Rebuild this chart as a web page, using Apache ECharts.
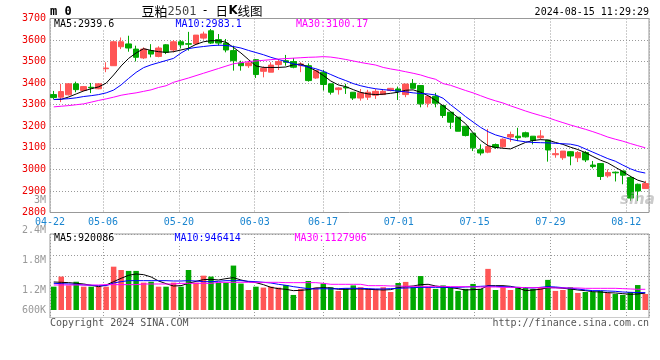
<!DOCTYPE html>
<html><head><meta charset="utf-8">
<script src="https://cdn.jsdelivr.net/npm/echarts@6/dist/echarts.min.js"></script>
<style>html,body{margin:0;padding:0;background:#fff}#c{width:660px;height:360px}</style>
</head><body><div id="c"></div>
<script>
const dates = ['04-22','04-23','04-24','04-25','04-26','04-29','04-30',
'05-06','05-07','05-08','05-09','05-10','05-13','05-14','05-15','05-16','05-17',
'05-20','05-21','05-22','05-23','05-24','05-27','05-28','05-29','05-30','05-31',
'06-03','06-04','06-05','06-06','06-07','06-11','06-12','06-13','06-14',
'06-17','06-18','06-19','06-20','06-21','06-24','06-25','06-26','06-27','06-28',
'07-01','07-02','07-03','07-04','07-05','07-08','07-09','07-10','07-11','07-12',
'07-15','07-16','07-17','07-18','07-19','07-22','07-23','07-24','07-25','07-26',
'07-29','07-30','07-31','08-01','08-02','08-05','08-06','08-07','08-08','08-09',
'08-12','08-13','08-14','08-15'];
const opens = [3347,3335,3346,3397,3366,3381,3374,3467,3481,3569,3582,3558,3517,3551,3524,3578,3554,3592,3583,3582,
3609,3643,3602,3586,3551,3494,3481,3509,3455,3451,3486,3504,3500,3481,3481,3424,3451,3397,3370,3381,
3358,3331,3335,3344,3347,3366,3373,3347,3399,3389,3307,3339,3296,3265,3242,3200,3168,3091,3080,3115,
3105,3150,3154,3170,3154,3147,3136,3068,3054,3082,3054,3078,3020,3027,2970,2987,2993,2962,2931,2911];
const closes = [3333,3361,3397,3370,3384,3378,3397,3470,3592,3592,3563,3520,3558,3535,3563,3543,3592,3578,3581,3623,
3628,3586,3586,3554,3504,3481,3494,3440,3469,3484,3500,3497,3474,3489,3412,3458,3394,3358,3378,3378,
3331,3355,3358,3362,3362,3376,3362,3396,3376,3304,3339,3307,3250,3219,3177,3157,3100,3076,3106,3102,
3140,3162,3147,3151,3134,3155,3090,3073,3085,3062,3078,3044,3013,2967,2985,2984,2973,2867,2900,2934];
const lows = [3326,3312,3343,3358,3362,3354,3372,3451,3481,3558,3546,3501,3512,3520,3520,3535,3543,3561,3551,3580,
3602,3582,3574,3543,3458,3458,3471,3424,3427,3451,3461,3481,3469,3451,3407,3420,3366,3347,3347,3350,
3322,3319,3322,3327,3347,3362,3322,3335,3376,3288,3288,3288,3239,3188,3177,3153,3085,3065,3075,3095,
3100,3128,3131,3148,3116,3139,3036,3054,3044,3019,3034,3034,3005,2951,2962,2944,2931,2854,2854,2911];
const highs = [3364,3397,3400,3407,3387,3401,3400,3497,3595,3612,3620,3574,3566,3581,3571,3581,3600,3600,3638,3623,
3639,3659,3628,3605,3574,3504,3504,3512,3478,3497,3512,3531,3517,3497,3492,3458,3461,3397,3381,3397,
3358,3373,3369,3373,3369,3378,3384,3396,3419,3389,3339,3355,3296,3265,3242,3200,3168,3116,3188,3120,
3144,3175,3193,3175,3154,3182,3136,3098,3085,3085,3085,3085,3039,3027,3000,2990,2993,2970,2934,2947];
const ma5 = [3324,3325,3336,3350,3364,3374,3383,3400,3438,3480,3515,3540,3560,3552,3546,3543,3546,3554,3562,3580,
3592,3597,3597,3590,3566,3540,3510,3480,3473,3473,3473,3475,3485,3489,3475,3458,3436,3410,3392,3384,
3370,3357,3350,3347,3349,3353,3358,3367,3369,3358,3342,3320,3295,3268,3240,3212,3170,3135,3110,3102,
3098,3095,3110,3125,3134,3138,3136,3125,3116,3103,3092,3078,3060,3043,3030,3010,2990,2968,2950,2939.6];
const ma10 = [3324,3326,3328,3332,3338,3342,3347,3355,3368,3392,3422,3450,3472,3485,3495,3505,3515,3540,3560,3566,
3570,3574,3576,3575,3570,3563,3552,3542,3532,3520,3510,3500,3490,3483,3475,3467,3455,3440,3425,3412,
3398,3388,3380,3374,3370,3367,3363,3360,3355,3352,3350,3345,3330,3300,3273,3245,3220,3195,3175,3160,
3150,3140,3133,3128,3125,3124,3123,3121,3119,3117,3110,3095,3080,3065,3050,3038,3020,3003,2990,2983.1];
const ma30 = [3290,3293,3296,3300,3304,3312,3320,3327,3335,3344,3350,3355,3362,3369,3380,3388,3404,3414,3424,3435,
3446,3457,3468,3479,3490,3495,3500,3503,3506,3509,3512,3514,3516,3518,3520,3521,3523,3521,3516,3510,
3503,3496,3490,3484,3473,3466,3460,3453,3446,3438,3427,3418,3398,3390,3378,3366,3355,3342,3329,3318,
3308,3295,3283,3271,3260,3250,3240,3228,3217,3206,3196,3186,3175,3163,3150,3140,3131,3120,3110,3100.17];
const volumes = [1270000,1820000,1340000,1540000,1270000,1270000,1270000,1270000,2360000,2180000,
2130000,2130000,1490000,1540000,1270000,1270000,1490000,1270000,2180000,1490000,
1870000,1820000,1490000,1490000,2420000,1440000,1090000,1270000,1220000,1270000,
1220000,1360000,820000,1150000,1580000,1220000,1440000,1240000,1040000,1180000,
1340000,1240000,1150000,1150000,1240000,980000,1470000,1530000,1240000,1850000,
1240000,1150000,1340000,1240000,1040000,1150000,1420000,1150000,2240000,1090000,
1240000,1090000,1240000,1240000,1150000,1240000,1640000,1040000,1090000,1240000,
930000,980000,980000,1040000,930000,870000,820000,980000,1360000,870000];
const volMa5 = [1526000,1508000,1490000,1453000,1417000,1345000,1272000,1363000,1544000,1726000,
1890000,1962000,1926000,1800000,1580000,1435000,1308000,1326000,1453000,1562000,
1654000,1672000,1635000,1708000,1762000,1635000,1544000,1490000,1381000,1235000,
1163000,1127000,1054000,1072000,1109000,1200000,1217000,1200000,1127000,1127000,
1145000,1145000,1127000,1109000,1090000,1109000,1217000,1272000,1308000,1381000,
1400000,1308000,1254000,1217000,1163000,1090000,1109000,1127000,1326000,1326000,
1326000,1290000,1200000,1054000,1090000,1127000,1217000,1217000,1181000,1145000,
1090000,1054000,1000000,981000,945000,927000,890000,854000,872000,920086];
const volMa10 = [1453000,1435000,1417000,1400000,1363000,1345000,1326000,1326000,1472000,1544000,
1599000,1599000,1599000,1599000,1599000,1599000,1580000,1580000,1599000,1580000,
1544000,1544000,1562000,1599000,1599000,1599000,1562000,1544000,1508000,1472000,
1400000,1345000,1272000,1217000,1163000,1145000,1163000,1145000,1163000,1181000,
1181000,1181000,1163000,1145000,1145000,1163000,1181000,1200000,1217000,1235000,
1235000,1235000,1235000,1235000,1235000,1254000,1272000,1290000,1308000,1290000,
1272000,1254000,1235000,1217000,1200000,1235000,1272000,1254000,1217000,1181000,
1145000,1090000,1054000,1054000,1036000,1018000,981000,963000,950000,946414];
const volMa30 = [1363000,1363000,1363000,1363000,1363000,1363000,1363000,1381000,1381000,1381000,
1381000,1381000,1417000,1417000,1417000,1417000,1417000,1453000,1453000,1453000,
1453000,1453000,1508000,1508000,1508000,1508000,1508000,1508000,1508000,1508000,
1508000,1490000,1490000,1490000,1490000,1490000,1453000,1400000,1400000,1400000,
1400000,1400000,1326000,1326000,1326000,1308000,1308000,1290000,1290000,1290000,
1290000,1290000,1290000,1272000,1272000,1272000,1254000,1254000,1254000,1254000,
1235000,1235000,1235000,1217000,1217000,1217000,1217000,1200000,1200000,1200000,
1200000,1181000,1181000,1181000,1181000,1181000,1163000,1145000,1127906,1127906];
const xTickLabels = ['04-22','05-06','05-20','06-03','06-17','07-01','07-15','07-29','08-12'];
const volTickLabels = ['2.4M','1.8M','1.2M','600K'];
const legendPrice = ['MA5:2939.6','MA10:2983.1','MA30:3100.17'];
const legendVol = ['MA5:920086','MA10:946414','MA30:1127906'];

const RED = '#ff5555', GREEN = '#00a800';
const MONO = 'DejaVu Sans Mono';
const gridDates = dates.slice(0, dates.length - 1);
const isTick = (i, v) => xTickLabels.indexOf(v) >= 0;
const dotted = {color: '#999', type: [1, 2], width: 1};

const candleData = dates.map((d, i) => [opens[i], closes[i], lows[i], highs[i]]);
const volData = volumes.map((v, i) => ({value: v, itemStyle: {color: closes[i] >= opens[i] ? RED : GREEN}}));

const chart = echarts.init(document.getElementById('c'), null, {renderer: 'canvas'});
const txt = (text, x, y, fill, font, align) => ({type: 'text', x: x, y: y, z: 100,
  style: {text: text, fill: fill, font: font, textAlign: align || 'left', textVerticalAlign: 'middle', backgroundColor: '#fff'}});

chart.setOption({
  animation: false,
  backgroundColor: '#fff',
  grid: [
    {left: 50, right: 11, top: 18.5, height: 194, show: true, borderColor: '#999', borderWidth: 1},
    {left: 50, right: 11, top: 234, height: 76},
    {left: 50, right: 11, top: 234, height: 84, show: true, borderColor: '#999', borderWidth: 1}
  ],
  xAxis: [
    {type: 'category', data: dates, gridIndex: 0, show: false, position: 'top'},
    {type: 'category', data: gridDates, gridIndex: 0, boundaryGap: true, position: 'bottom',
      axisLine: {show: false}, axisTick: {show: false},
      axisLabel: {interval: isTick, color: '#1a85d0', fontFamily: MONO, fontSize: 10, margin: 5, padding: [0, 7.6, 0, 0]},
      splitLine: {show: true, interval: isTick, lineStyle: dotted}},
    {type: 'category', data: dates, gridIndex: 1, show: false},
    {type: 'category', data: gridDates, gridIndex: 2, boundaryGap: true,
      axisLine: {show: false}, axisTick: {show: false}, axisLabel: {show: false},
      splitLine: {show: true, interval: isTick, lineStyle: dotted}}
  ],
  yAxis: [
    {type: 'value', gridIndex: 0, min: 2800, max: 3700, interval: 100,
      axisLine: {show: false}, axisTick: {show: false},
      axisLabel: {color: '#ee0000', fontFamily: MONO, fontSize: 10, margin: 4, padding: [0, 0, 3, 0], formatter: v => String(v)},
      splitLine: {show: true, lineStyle: dotted}},
    {type: 'value', gridIndex: 1, min: 0, max: 4140000, show: false, splitLine: {show: false}},
    {type: 'value', gridIndex: 2, min: 0, max: 4, interval: 1,
      axisLine: {show: false}, axisTick: {show: false}, axisLabel: {show: false},
      splitLine: {show: true, lineStyle: dotted}}
  ],
  series: [
    {type: 'candlestick', xAxisIndex: 0, yAxisIndex: 0, data: candleData, barWidth: 6,
      itemStyle: {color: RED, color0: GREEN, borderColor: RED, borderColor0: GREEN, borderWidth: 1}},
    {type: 'line', xAxisIndex: 0, yAxisIndex: 0, data: ma5, symbol: 'none', lineStyle: {color: '#000', width: 1}},
    {type: 'line', xAxisIndex: 0, yAxisIndex: 0, data: ma10, symbol: 'none', lineStyle: {color: '#0000ff', width: 1}},
    {type: 'line', xAxisIndex: 0, yAxisIndex: 0, data: ma30, symbol: 'none', lineStyle: {color: '#ff00ff', width: 1}},
    {type: 'bar', xAxisIndex: 2, yAxisIndex: 1, data: volData, barWidth: 5.5},
    {type: 'line', xAxisIndex: 2, yAxisIndex: 1, data: volMa5, symbol: 'none', lineStyle: {color: '#000', width: 1}},
    {type: 'line', xAxisIndex: 2, yAxisIndex: 1, data: volMa10, symbol: 'none', lineStyle: {color: '#0000ff', width: 1}},
    {type: 'line', xAxisIndex: 2, yAxisIndex: 1, data: volMa30, symbol: 'none', lineStyle: {color: '#ff00ff', width: 1}}
  ],
  graphic: [
    txt('m 0', 50, 12, '#000', 'bold 12px ' + MONO),
    txt('豆粕', 141.5, 11, '#000', '13px "Noto Sans CJK SC"'),
    txt('2501', 167.5, 12, '#444', '12px ' + MONO),
    txt('-', 201.5, 11, '#000', '12px ' + MONO),
    txt('日', 215.5, 11, '#000', '12.5px "Noto Sans CJK SC"'),
    txt('K', 228.5, 11, '#000', 'bold 12px "DejaVu Sans"'),
    txt('线图', 237.5, 11, '#000', '12.5px "Noto Sans CJK SC"'),
    txt('2024-08-15 11:29:29', 649, 12, '#000', '10px ' + MONO, 'right'),
    txt(legendPrice[0], 54, 24, '#000', '10px ' + MONO),
    txt(legendPrice[1], 175.5, 24, '#0000ff', '10px ' + MONO),
    txt(legendPrice[2], 296, 24, '#ff00ff', '10px ' + MONO),
    txt(legendVol[0], 54, 238.5, '#000', '10px ' + MONO),
    txt(legendVol[1], 174.5, 238.5, '#0000ff', '10px ' + MONO),
    txt(legendVol[2], 294.5, 238.5, '#ff00ff', '10px ' + MONO),
    txt('3M', 46, 200, '#999', '10px ' + MONO, 'right'),
    txt(volTickLabels[0], 46, 230.7, '#999', '10px ' + MONO, 'right'),
    txt(volTickLabels[1], 46, 260.7, '#999', '10px ' + MONO, 'right'),
    txt(volTickLabels[2], 46, 290.3, '#999', '10px ' + MONO, 'right'),
    txt(volTickLabels[3], 46, 310, '#999', '10px ' + MONO, 'right'),
    txt('Copyright 2024 SINA.COM', 50, 323, '#555', '10px ' + MONO),
    txt('http://finance.sina.com.cn', 649, 323, '#555', '10px ' + MONO, 'right'),
    {type: 'text', x: 620, y: 200, z: 50, style: {text: 'sina', fill: 'rgba(160,160,160,0.55)', font: 'italic bold 15px "DejaVu Sans"', textVerticalAlign: 'middle'}}
  ]
});
</script></body></html>
